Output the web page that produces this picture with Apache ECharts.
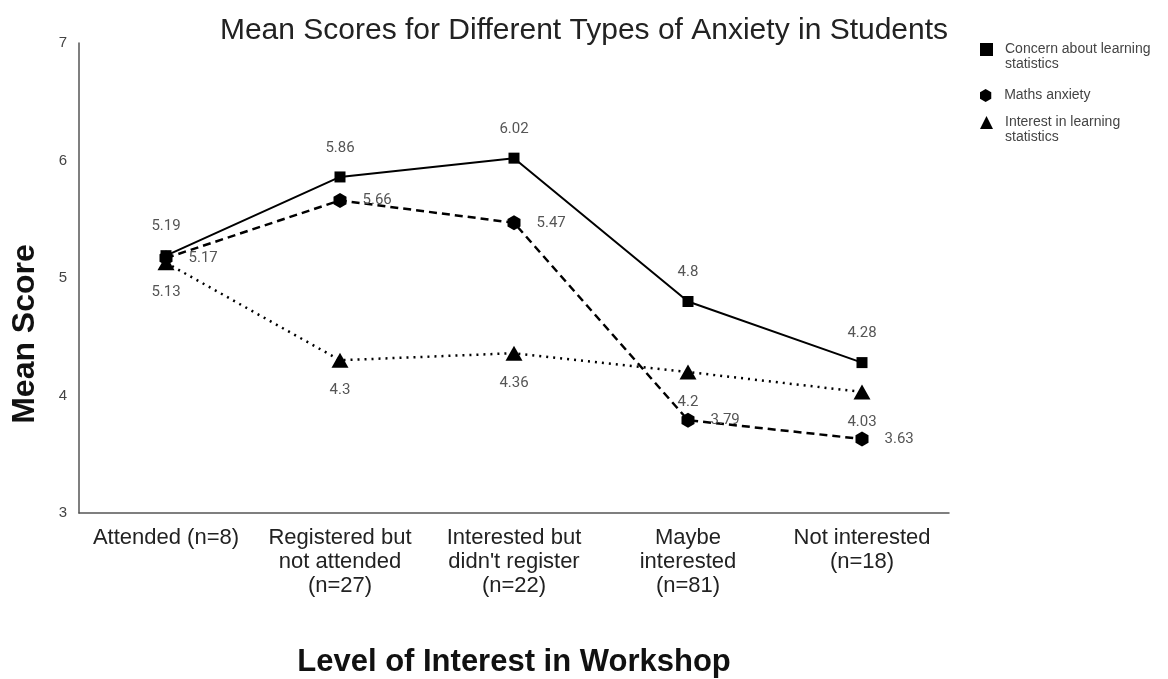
<!DOCTYPE html>
<html>
<head>
<meta charset="utf-8">
<title>Mean Scores for Different Types of Anxiety in Students</title>
<script src="https://cdn.jsdelivr.net/npm/echarts@6/dist/echarts.min.js"></script>
<style>
  html, body { margin: 0; padding: 0; background: #fff; }
  #main { width: 1168px; height: 679px; }
</style>
</head>
<body>
<div id="main"></div>
<script>
const categories = ['Attended (n=8)', 'Registered but\nnot attended\n(n=27)', "Interested but\ndidn't register\n(n=22)", 'Maybe\ninterested\n(n=81)', 'Not interested\n(n=18)'];
const concernScores = [5.19, 5.86, 6.02, 4.8, 4.28];
const mathsScores = [5.17, 5.66, 5.47, 3.79, 3.63];
const interestScores = [5.13, 4.3, 4.36, 4.2, 4.03];
const yTicks = [3, 4, 5, 6, 7];

const seriesNames = ['Concern about learning\nstatistics', 'Maths anxiety', 'Interest in learning\nstatistics'];

const hexagon = 'path://M0,-1L0.866,-0.5L0.866,0.5L0,1L-0.866,0.5L-0.866,-0.5Z';

const labelBase = {
  show: true,
  color: '#555',
  fontSize: 15,
  fontFamily: 'Roboto'
};

// one legend per entry; an empty first line keeps the icon level with the first text line
function legendFor(name, icon, top) {
  return {
    orient: 'vertical',
    left: 975,
    top: top,
    itemWidth: 13,
    itemHeight: 13,
    formatter: function (n) {
      return n.indexOf('\n') >= 0 ? '\n' + n : n;
    },
    textStyle: { fontSize: 14, color: '#444', lineHeight: 15, padding: [0, 0, 0, 7] },
    data: [{ name: name, icon: icon }]
  };
}

const chart = echarts.init(document.getElementById('main'));
const option = {
  animation: false,
  textStyle: { fontFamily: 'Liberation Sans' },
  title: {
    text: 'Mean Scores for Different Types of Anxiety in Students',
    left: 'center',
    top: 11,
    textStyle: { fontSize: 30, fontWeight: 'normal', color: '#222' }
  },
  legend: [
    legendFor(seriesNames[0], 'rect', 22),
    legendFor(seriesNames[1], hexagon, 83),
    legendFor(seriesNames[2], 'triangle', 95)
  ],
  grid: { left: 79, right: 219, top: 43, bottom: 166, outerBoundsMode: 'none' },
  xAxis: {
    type: 'category',
    data: categories,
    boundaryGap: true,
    axisLine: { show: true, lineStyle: { color: '#555', width: 1.5 } },
    axisTick: { show: false },
    axisLabel: { fontSize: 22, color: '#222', lineHeight: 24, margin: 13, interval: 0 },
    name: 'Level of Interest in Workshop',
    nameLocation: 'middle',
    nameGap: 134,
    nameTextStyle: { fontSize: 31, fontWeight: 'bold', color: '#111' }
  },
  yAxis: {
    type: 'value',
    min: yTicks[0],
    max: yTicks[yTicks.length - 1],
    interval: 1,
    axisLine: { show: true, lineStyle: { color: '#555', width: 1.5 } },
    axisTick: { show: false },
    splitLine: { show: false },
    axisLabel: { fontSize: 15, color: '#444', margin: 12 },
    name: 'Mean Score',
    nameLocation: 'middle',
    nameGap: 38,
    nameTextStyle: { fontSize: 32, fontWeight: 'bold', color: '#111', padding: [0, 112, 0, 0] }
  },
  series: [
    {
      name: seriesNames[0],
      type: 'line',
      data: concernScores,
      symbol: 'rect',
      symbolSize: 11,
      itemStyle: { color: '#000' },
      lineStyle: { color: '#000', width: 2, type: 'solid' },
      label: Object.assign({}, labelBase, { position: 'top', distance: 16 }),
      z: 3
    },
    {
      name: seriesNames[1],
      type: 'line',
      data: mathsScores,
      symbol: hexagon,
      symbolSize: [13, 15],
      itemStyle: { color: '#000' },
      lineStyle: { color: '#000', width: 2.5, type: [8, 5] },
      label: Object.assign({}, labelBase, { position: 'right', distance: 16 }),
      z: 2
    },
    {
      name: seriesNames[2],
      type: 'line',
      data: interestScores,
      symbol: 'triangle',
      symbolSize: [17, 15],
      itemStyle: { color: '#000' },
      lineStyle: { color: '#000', width: 2.5, type: [2, 5] },
      label: Object.assign({}, labelBase, { position: 'bottom', distance: 15 }),
      z: 1
    }
  ]
};
chart.setOption(option);
</script>
</body>
</html>
